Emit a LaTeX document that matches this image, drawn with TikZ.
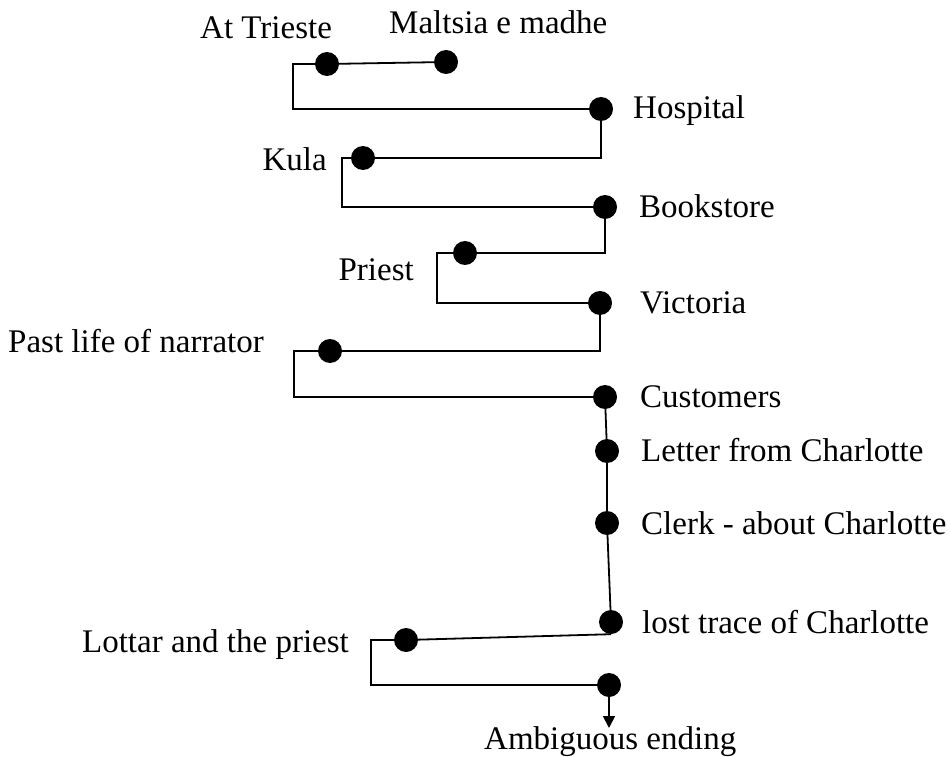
\documentclass[tikz,border=0pt]{standalone}
\usepackage{fontspec}
\setmainfont{Liberation Serif}
\usetikzlibrary{arrows.meta}
\begin{document}
\begin{tikzpicture}[x=1pt,y=-1pt,
  dot/.style={circle,fill=black,inner sep=0pt,minimum size=24pt},
  wire/.style={line width=1.8pt,line join=miter},
  lbl/.style={font=\fontsize{33}{40}\selectfont,inner sep=0pt}]
\useasboundingbox (0,0) rectangle (951,757);

% event dots
\node[dot] (trieste)   at (327,64)  {};
\node[dot] (maltsia)   at (446,62)  {};
\node[dot] (hospital)  at (601,109) {};
\node[dot] (kula)      at (363,158) {};
\node[dot] (bookstore) at (605,207) {};
\node[dot] (priest)    at (465,253) {};
\node[dot] (victoria)  at (600,303) {};
\node[dot] (pastlife)  at (330,351) {};
\node[dot] (customers) at (605,397) {};
\node[dot] (letter)    at (607,451) {};
\node[dot] (clerk)     at (607,523) {};
\node[dot] (lost)      at (611,622) {};
\node[dot] (lottar)    at (406,640) {};
\node[dot] (last)      at (609,685) {};
\coordinate (tip) at (609,728);

% labels
\node[lbl,anchor=base west] (lTrieste)   at (200,39)  {At Trieste};
\node[lbl,anchor=base west] (lMaltsia)   at (389,34)  {Maltsia e madhe};
\node[lbl,anchor=base west] (lHospital)  at (633,119) {Hospital};
\node[lbl,anchor=base east] (lKula)      at (327,171) {Kula};
\node[lbl,anchor=base west] (lBookstore) at (639,218) {Bookstore};
\node[lbl,anchor=base east] (lPriest)    at (414,280) {Priest};
\node[lbl,anchor=base west] (lVictoria)  at (640,313) {Victoria};
\node[lbl,anchor=base west] (lPastlife)  at (8,352)   {Past life of narrator};
\node[lbl,anchor=base west] (lCustomers) at (640,407) {Customers};
\node[lbl,anchor=base west] (lLetter)    at (641,461) {Letter from Charlotte};
\node[lbl,anchor=base west] (lClerk)     at (641,534) {Clerk - about Charlotte};
\node[lbl,anchor=base west] (lLost)      at (642,633) {lost trace of Charlotte};
\node[lbl,anchor=base east] (lLottar)    at (349,652) {Lottar and the priest};
\node[lbl,anchor=base west] (lEnding)    at (484,749) {Ambiguous ending};

% connectors
\draw[wire] (trieste.center) -- (maltsia.center);
\draw[wire] (trieste.center) -- ++(-34,0) |- (hospital.center);
\draw[wire] (hospital.center) |- (kula.center);
\draw[wire] (kula.center) -- ++(-21,0) |- (bookstore.center);
\draw[wire] (bookstore.center) |- (priest.center);
\draw[wire] (priest.center) -- ++(-28,0) |- (victoria.center);
\draw[wire] (victoria.center) |- (pastlife.center);
\draw[wire] (pastlife.center) -- ++(-36,0) |- (customers.center);
\draw[wire] (customers.center) -- (letter.center) -- (clerk.center) -- (lost.center);
\draw[wire] (lottar.center) -- (lost.south);
\draw[wire] (lottar.center) -- ++(-35,0) |- (last.center);
\draw[wire,-{Triangle[length=12pt,width=12pt]}] (last.center) -- (tip);
\end{tikzpicture}
\end{document}
